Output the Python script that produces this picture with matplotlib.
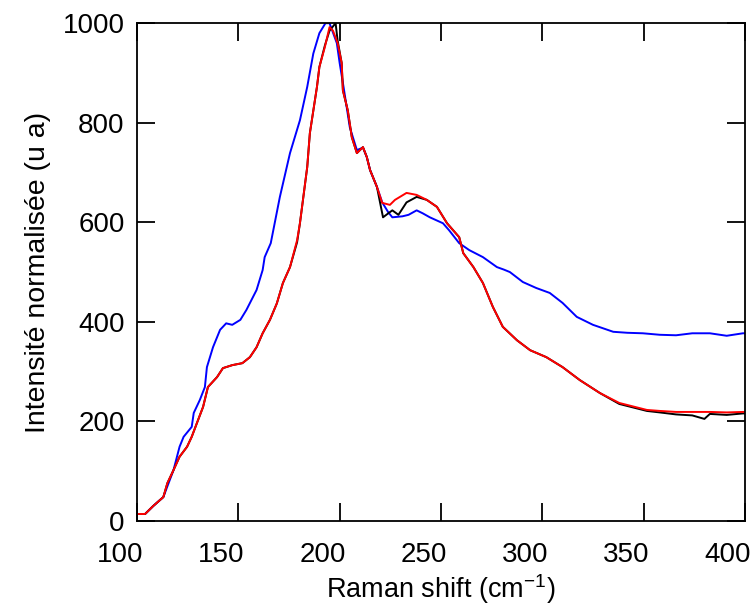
import matplotlib
matplotlib.use('Agg')
import matplotlib.pyplot as plt
import matplotlib.transforms as mtransforms

# Raman spectra
x_blue = [100, 104, 108, 113, 118, 121, 123, 127, 128, 131, 133.5, 134.5, 137.5, 141,
          144, 147, 151, 154, 159, 162, 163, 166, 170.5, 175.5, 180.4, 184, 187, 190,
          193, 195, 198.6, 200, 202, 205, 208.5, 211.5, 213.4, 215, 218.4, 221, 224,
          226, 231, 234, 238, 241, 244.5, 251, 254, 259, 264, 270.7, 277.6, 281, 284,
          290.4, 297, 303.7, 310, 317, 325, 335, 342, 349.6, 358, 366, 374, 382.7, 391, 399, 400]
y_blue = [14, 14, 30, 48, 102, 149, 169, 189, 217, 243, 269, 309, 349, 384,
          397, 394, 404, 424, 464, 504, 530, 558, 651, 739, 805, 872, 939, 980,
          1000, 1000, 960, 920, 870, 791, 745, 750, 731, 705, 671, 640, 620,
          610, 612, 615, 624, 618, 610, 598, 584, 558, 544, 530, 510, 505, 500,
          480, 468, 458, 438, 410, 394, 380, 378, 377, 374, 373, 377, 377, 372, 377, 377]

x_black = [100, 104, 108, 113, 115, 118, 121, 124.7, 127, 129.6, 132.6, 135, 139.5, 142.4,
           147, 152, 155.7, 159, 162, 165.6, 169, 172, 175.5, 179, 180.4, 184, 185.3,
           188.8, 190, 192.7, 195, 198, 199, 201, 201.6, 204, 206, 208.5, 211.5, 213.4,
           215, 218.4, 221.4, 224, 226, 229, 233, 238, 243, 248, 253, 259, 261, 266,
           270.7, 275.6, 280.5, 287.5, 294, 302, 310, 318.5, 328.4, 338, 351.6, 358, 366,
           374, 380, 382.7, 391, 399, 400]
y_black = [14, 14, 30, 48, 76, 102, 129, 149, 169, 197, 229, 269, 289, 307,
           313, 317, 329, 349, 377, 404, 437, 478, 510, 560, 598, 711, 779,
           872, 912, 955, 985, 1000, 965, 920, 865, 825, 771, 739, 751, 731,
           705, 671, 610, 618, 624, 615, 640, 651, 645, 631, 598, 570, 538, 510,
           478, 430, 390, 363, 343, 329, 309, 283, 257, 235, 221, 218, 214,
           212, 205, 215, 213, 216, 216]

x_red = [100, 104, 108, 113, 115, 118, 121, 124.7, 127, 129.6, 132.6, 135, 139.5, 142.4,
         147, 152, 155.7, 159, 162, 165.6, 169, 172, 175.5, 179, 180.4, 184, 185.3,
         188.8, 190, 192.7, 195, 196.7, 199, 201, 201.6, 204, 206, 208.5, 211.5, 213.4,
         215, 218.4, 221, 224.8, 227.3, 233, 238, 243, 248, 253, 259, 261, 266,
         270.7, 275.6, 280.5, 287.5, 294, 302, 310, 318.5, 328.4, 338, 351.6, 358, 366,
         374, 382.7, 391, 399, 400]
y_red = [14, 14, 30, 48, 76, 102, 129, 149, 169, 197, 229, 269, 289, 307,
         313, 317, 329, 349, 377, 404, 437, 478, 510, 564, 598, 711, 779,
         872, 912, 952, 992, 985, 960, 920, 865, 825, 771, 739, 751, 731,
         705, 671, 639, 635, 645, 659, 655, 645, 631, 598, 570, 538, 510,
         478, 430, 390, 363, 343, 329, 309, 283, 257, 237, 223, 221, 219,
         219, 219, 218, 219, 219]

plt.rcParams['font.family'] = ['Liberation Sans', 'DejaVu Sans']
plt.rcParams['mathtext.default'] = 'regular'
fig = plt.figure(figsize=(7.54, 6.10), dpi=100)
ax = fig.add_axes([0.1817, 0.146, 0.8063, 0.816])

ax.plot(x_blue, y_blue, color='#0000ff', lw=1.4)
ax.plot(x_black, y_black, color='black', lw=1.4)
ax.plot(x_red, y_red, color='#ff0000', lw=1.4)

ax.set_xlim(100, 400)
ax.set_ylim(0, 1000)
ax.set_xticks([100, 150, 200, 250, 300, 350, 400])
ax.set_yticks([0, 200, 400, 600, 800, 1000])
ax.tick_params(direction='in', length=13, width=1.3, top=True, right=True,
               labelsize=20, colors='black')
ax.tick_params(axis='x', pad=15)
ax.tick_params(axis='y', pad=9)
for s in ax.spines.values():
    s.set_linewidth(1.3)

# the x tick labels sit a little to the left of their ticks in the original
shift = mtransforms.ScaledTranslation(-0.17, 0, fig.dpi_scale_trans)
for lab in ax.get_xticklabels():
    lab.set_transform(lab.get_transform() + shift)

ax.set_xlabel('Raman shift (cm$^{-1}$)', fontsize=19.5, labelpad=3)
ax.set_ylabel('Intensité normalisée (u a)', fontsize=20.5, labelpad=8)

plt.savefig('out.png', dpi=100)
plt.close()
